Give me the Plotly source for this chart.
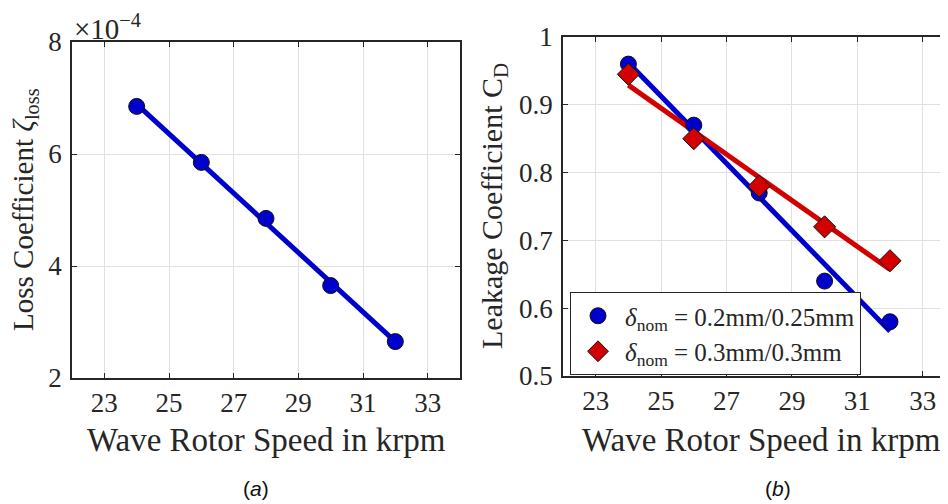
import numpy as np
import plotly.graph_objects as go

# ---------------- data ----------------
speed_krpm = [24, 26, 28, 30, 32]
# loss coefficient, in units of 1e-4
loss_coeff_e4 = [6.85, 5.85, 4.85, 3.65, 2.65]
leak_cd_02 = [0.96, 0.87, 0.77, 0.64, 0.58]
leak_cd_03 = [0.945, 0.85, 0.78, 0.72, 0.67]
x_ticks = [23, 25, 27, 29, 31, 33]
loss_ticks = [2, 4, 6, 8]
cd_ticks = [0.5, 0.6, 0.7, 0.8, 0.9, 1.0]
cd_tick_text = ["0.5", "0.6", "0.7", "0.8", "0.9", "1"]
legend_02 = "<i>δ</i><sub>nom</sub> = 0.2mm/0.25mm"
legend_03 = "<i>δ</i><sub>nom</sub> = 0.3mm/0.3mm"

W, H = 948, 504
OFF = 8  # page body margin of the html page
SERIF = "Liberation Serif"
AX = "#262626"
BLUE = "#0000cc"
RED = "#d20000"


def fit(xs, ys):
    c = np.polyfit(xs, ys, 1)
    xs = np.array(xs, dtype=float)
    return xs, np.polyval(c, xs)


fig = go.Figure()

# panel (a)
fx, fy = fit(speed_krpm, loss_coeff_e4)
fig.add_trace(go.Scatter(x=fx, y=fy, mode="lines", line=dict(color=BLUE, width=5),
                         showlegend=False, xaxis="x", yaxis="y"))
fig.add_trace(go.Scatter(x=speed_krpm, y=loss_coeff_e4, mode="markers",
                         marker=dict(symbol="circle", size=16, color=BLUE,
                                     line=dict(color="#111", width=1)),
                         showlegend=False, xaxis="x", yaxis="y"))

# panel (b)
fx, fy = fit(speed_krpm, leak_cd_02)
fig.add_trace(go.Scatter(x=fx, y=fy, mode="lines", line=dict(color=BLUE, width=5),
                         showlegend=False, xaxis="x2", yaxis="y2"))
fx, fy = fit(speed_krpm, leak_cd_03)
fig.add_trace(go.Scatter(x=fx, y=fy, mode="lines", line=dict(color=RED, width=5),
                         showlegend=False, xaxis="x2", yaxis="y2"))
fig.add_trace(go.Scatter(x=speed_krpm, y=leak_cd_02, mode="markers", name=legend_02,
                         marker=dict(symbol="circle", size=16, color=BLUE,
                                     line=dict(color="#111", width=1)),
                         xaxis="x2", yaxis="y2"))
fig.add_trace(go.Scatter(x=speed_krpm, y=leak_cd_03, mode="markers", name=legend_03,
                         marker=dict(symbol="diamond", size=17, color=RED,
                                     line=dict(color="#111", width=1)),
                         xaxis="x2", yaxis="y2"))


def px(v):
    return (v - OFF) / W


def py(v):
    return 1 - (v - OFF) / H


common_x = dict(showline=True, linecolor=AX, linewidth=1.5, ticks="inside", ticklen=5,
                tickcolor=AX, showgrid=True, gridcolor="#e0e0e0", gridwidth=1,
                zeroline=False, tickvals=x_ticks, ticklabelstandoff=0, automargin=False,
                tickfont=dict(family=SERIF, size=27, color=AX))
common_y = dict(showline=True, linecolor=AX, linewidth=1.5, ticks="inside", ticklen=5,
                tickcolor=AX, showgrid=True, gridcolor="#e0e0e0", zeroline=False,
                ticklabelstandoff=3, automargin=False,
                tickfont=dict(family=SERIF, size=27, color=AX))

PX_PER_UNIT = 32.7
right_left = 563

fig.update_layout(
    width=W, height=H, margin=dict(l=0, r=0, t=0, b=0),
    paper_bgcolor="white", plot_bgcolor="white",
    xaxis=dict(domain=[px(72), px(460)], range=[22, 34], mirror="ticks", anchor="y", **common_x),
    yaxis=dict(domain=[py(378), py(42)], range=[2, 8], tickvals=loss_ticks, mirror="ticks",
               anchor="x", **common_y),
    xaxis2=dict(domain=[px(right_left), px(948)],
                range=[22, 22 + (948 - right_left) / PX_PER_UNIT], mirror="ticks",
                anchor="y2", **common_x),
    yaxis2=dict(domain=[py(376), py(37)], range=[0.5, 1.0], tickvals=cd_ticks,
                ticktext=cd_tick_text, mirror=False, anchor="x2", **common_y),
    legend=dict(x=px(570), y=py(292), xanchor="left", yanchor="top",
                bgcolor="white", bordercolor=AX, borderwidth=1,
                font=dict(family=SERIF, size=25, color=AX), tracegroupgap=0,
                itemsizing="trace", itemwidth=44),
    showlegend=True,
)

annots = [
    dict(text="Wave Rotor Speed in krpm", x=px(266), y=py(440), size=33),
    dict(text="Wave Rotor Speed in krpm", x=px(761), y=py(440), size=33),
    dict(text="Loss Coefficient <i>ζ</i><sub>loss</sub>", x=px(25), y=py(210), textangle=-90,
         size=29),
    dict(text="Leakage Coefficient C<sub>D</sub>", x=px(494), y=py(206), textangle=-90,
         size=30),
]
for a in annots:
    size = a.pop("size")
    fig.add_annotation(xref="paper", yref="paper", showarrow=False,
                       xanchor="center", yanchor="middle",
                       font=dict(family=SERIF, size=size, color=AX), **a)

fig.add_annotation(text="×10<sup>−4</sup>", xref="paper", yref="paper", x=px(72), y=py(27),
                   xanchor="left", yanchor="middle", showarrow=False,
                   font=dict(family=SERIF, size=29, color=AX))
fig.add_annotation(text="(<i>a</i>)", xref="paper", yref="paper", x=px(256), y=py(488),
                   xanchor="center", yanchor="middle", showarrow=False,
                   font=dict(family="Liberation Sans", size=21, color="#111"))
fig.add_annotation(text="(<i>b</i>)", xref="paper", yref="paper", x=px(778), y=py(488),
                   xanchor="center", yanchor="middle", showarrow=False,
                   font=dict(family="Liberation Sans", size=21, color="#111"))

fig.write_html("out.html")
